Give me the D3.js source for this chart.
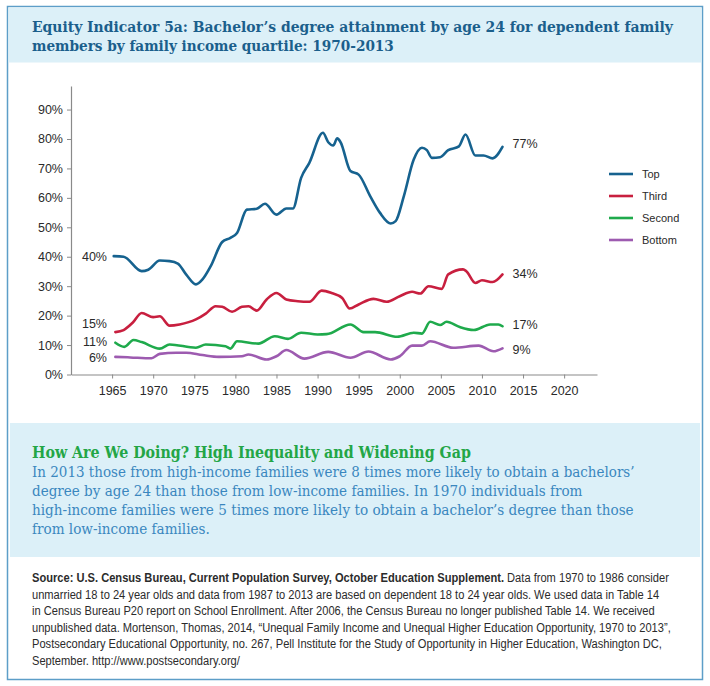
<!DOCTYPE html>
<html>
<head>
<meta charset="utf-8">
<script src="https://cdn.jsdelivr.net/npm/d3@7"></script>
<style>
  body { margin: 0; background: #fff; }
  svg { display: block; }
</style>
</head>
<body>
<div id="chart"></div>
<script>
// series values as [axis year, percent]
var topQ = [[1965.2,40.2],[1966.4,40],[1968.6,35.1],[1969.4,35.6],[1970.8,38.7],[1972,38.5],[1973,37.7],[1974,34],
  [1975.2,30.6],[1976,32.3],[1977,36.8],[1978.4,45],[1979.4,46.4],[1980.2,48.1],[1981.4,56],[1982.6,56.3],[1983.6,58],
  [1985,54.3],[1986.2,56.4],[1987,56.4],[1988,66.8],[1989,71.9],[1990.65,82.1],[1991.3,78.9],[1991.9,77.8],[1992.4,80.2],
  [1992.8,78.9],[1994,69.1],[1995,67.9],[1996.4,60.6],[1997.6,54.9],[1998.9,51.3],[1999.5,52.1],[2000.5,60.6],[2001.7,73],
  [2002.7,77],[2003.3,76.2],[2003.9,73.6],[2004.9,73.8],[2005.9,76.2],[2007.2,77.5],[2008,81.5],[2009.2,74.4],[2010.2,74.4],
  [2011.3,73.4],[2012.5,77.3]]
var thirdQ = [[1965.4,14.4],[1966.4,15.1],[1967.5,17.6],[1968.6,20.9],[1970,19.5],[1970.8,19.8],[1972,16.6],[1973.2,17],
  [1975.2,18.7],[1976.4,20.7],[1977.6,23.2],[1978.4,23],[1979.6,21.3],[1980.8,23],[1981.6,23.2],[1982.6,21.7],[1983.8,25.5],
  [1985,27.7],[1986.2,25.5],[1987.6,24.9],[1989,24.7],[1990.5,28.5],[1991.7,27.7],[1993,26],[1993.9,22.4],[1995,23.8],
  [1996.8,25.7],[1998.4,24.7],[2000,26.6],[2001.5,28.1],[2002.5,27.5],[2003.5,30],[2005.1,29.1],[2005.9,34],[2007.7,35.7],
  [2008.1,35.1],[2009.2,31.1],[2010,32],[2011.3,31.4],[2012.5,34]]
var secondQ = [[1965.4,10.8],[1966.5,9.4],[1967.6,11.7],[1968.6,11],[1970.8,8.8],[1972,10.2],[1975.2,9.1],[1976.4,10.2],
  [1978.8,9.6],[1979.4,8.8],[1980.2,11.3],[1982.8,10.5],[1984.8,13],[1986.4,12.1],[1988,14.2],[1990,13.6],[1991.1,13.7],
  [1994,17],[1995.6,14.4],[1997,14.4],[1999.7,12.8],[2001.7,14.2],[2002.7,13.9],[2003.7,17.9],[2004.9,16.8],[2005.7,17.9],
  [2007.3,16.1],[2009,15.1],[2011,17],[2012,17],[2012.5,16.4]]
var bottomQ = [[1965.4,6],[1967.2,5.8],[1969.8,5.5],[1970.8,7],[1972.8,7.4],[1974,7.4],[1976,6.6],[1978,6],[1980.8,6.2],
  [1981.6,6.8],[1983.8,5.1],[1985,6.2],[1986.2,8.3],[1988.4,5.4],[1991.3,7.7],[1994,5.7],[1996.2,7.8],[1998.9,5.1],
  [2000,6.2],[2001.5,9.8],[2002.7,9.8],[2003.7,11.3],[2006.5,9.1],[2009.6,9.8],[2011.4,7.9],[2012.5,8.9]]

var seriesNames = ["Top", "Third", "Second", "Bottom"]
var seriesColors = ["#16628f", "#c81f3f", "#1faa4c", "#9d5bb0"]
var startLabels = ["40%", "15%", "11%", "6%"]
var endLabels = ["77%", "34%", "17%", "9%"]
var yTicks = [0, 10, 20, 30, 40, 50, 60, 70, 80, 90]
var xTicks = [1965, 1970, 1975, 1980, 1985, 1990, 1995, 2000, 2005, 2010, 2015, 2020]

var titleLines = ["Equity Indicator 5a: Bachelor\u2019s degree attainment by age 24 for dependent family",
  "members by family income quartile: 1970-2013"]
var heading = "How Are We Doing? High Inequality and Widening Gap"
var bodyLines = ["In 2013 those from high-income families were 8 times more likely to obtain a bachelors\u2019",
  "degree by age 24 than those from low-income families. In 1970 individuals from",
  "high-income families were 5 times more likely to obtain a bachelor\u2019s degree than those",
  "from low-income families."]
var sourceBold = "Source: U.S. Census Bureau, Current Population Survey, October Education Supplement."
var sourceLines = [" Data from 1970 to 1986 consider",
  "unmarried 18 to 24 year olds and data from 1987 to 2013 are based on dependent 18 to 24 year olds. We used data in Table 14",
  "in Census Bureau P20 report on School Enrollment. After 2006, the Census Bureau no longer published Table 14. We received",
  "unpublished data. Mortenson, Thomas, 2014, \u201cUnequal Family Income and Unequal Higher Education Opportunity, 1970 to 2013\u201d,",
  "Postsecondary Educational Opportunity, no. 267, Pell Institute for the Study of Opportunity in Higher Education, Washington DC,",
  "September. http://www.postsecondary.org/"]

var W = 710, H = 686
var serif = "'DejaVu Serif Condensed', 'DejaVu Serif', serif"
var narrow = "'Liberation Sans Narrow', 'Arial Narrow', 'Liberation Sans', sans-serif"

var svg = d3.select("#chart").append("svg")
  .attr("width", W).attr("height", H)

// scale a text's font size so that its line runs to the wanted width
function fitWidth(sel, size, target) {
  sel.style("font-size", size + "px")
  var w = sel.node().getComputedTextLength()
  sel.style("font-size", (size * target / w).toFixed(2) + "px")
}

// frame, title band and info band
svg.append("rect").attr("x", 7.5).attr("y", 6.5).attr("width", 695).attr("height", 673)
  .attr("fill", "#fff").attr("stroke", "#5d9ec8").attr("stroke-width", 1.5)
svg.append("rect").attr("x", 8.5).attr("y", 7.5).attr("width", 693).attr("height", 55).attr("fill", "#dcf0f8")
svg.append("rect").attr("x", 10).attr("y", 423).attr("width", 690).attr("height", 134).attr("fill", "#dcf0f8")

// title
var titleWidths = [641, 362]
titleLines.forEach(function(t, i) {
  var tt = svg.append("text").attr("x", 32).attr("y", 32 + i * 19).text(t)
    .style("font-family", serif).style("font-weight", "bold")
    .style("fill", "#1b5f8c")
  fitWidth(tt, 15, titleWidths[i])
})

// scales
var x = d3.scaleLinear().domain([1960, 2024]).range([71, 597])
var y = d3.scaleLinear().domain([0, 98]).range([374.5, 86])

// axes
var yAxis = svg.append("g").attr("transform", "translate(71,0)")
  .call(d3.axisLeft(y).tickValues(yTicks).tickSize(4).tickSizeOuter(0).tickFormat(function(d) { return d + "%" }))
var xAxis = svg.append("g").attr("transform", "translate(0,374.5)")
  .call(d3.axisBottom(x).tickValues(xTicks).tickSize(4).tickSizeOuter(0).tickFormat(d3.format("d")))
;[yAxis, xAxis].forEach(function(a) {
  a.select(".domain").attr("stroke", "#8a8a8a").attr("stroke-width", 1.2)
  a.selectAll(".tick line").attr("stroke", "#8a8a8a")
  a.selectAll(".tick text").style("font-family", narrow).style("font-size", "12.5px").style("fill", "#2a2a2a")
})
yAxis.selectAll(".tick text").attr("x", -8)
xAxis.selectAll(".tick text").attr("y", 12)

// lines
var line = d3.line()
  .x(function(d) { return x(d[0]) })
  .y(function(d) { return y(d[1]) })
  .curve(d3.curveMonotoneX)

var allSeries = [topQ, thirdQ, secondQ, bottomQ]
allSeries.forEach(function(s, i) {
  svg.append("path").datum(s).attr("d", line)
    .attr("fill", "none").attr("stroke", seriesColors[i]).attr("stroke-width", 2.6)
    .attr("stroke-linejoin", "round").attr("stroke-linecap", "round")
})

// start and end labels
var startY = [257, 324, 342, 358]
var endY = [144, 274, 325, 350]
allSeries.forEach(function(s, i) {
  svg.append("text").attr("x", 107).attr("y", startY[i]).attr("dy", "0.35em")
    .attr("text-anchor", "end").text(startLabels[i])
    .style("font-family", narrow).style("font-size", "12.5px").style("fill", "#2a2a2a")
  svg.append("text").attr("x", x(s[s.length - 1][0]) + 10).attr("y", endY[i]).attr("dy", "0.35em")
    .text(endLabels[i])
    .style("font-family", narrow).style("font-size", "12.5px").style("fill", "#2a2a2a")
})

// legend
seriesNames.forEach(function(n, i) {
  var ly = 174 + i * 22
  svg.append("line").attr("x1", 609).attr("x2", 633).attr("y1", ly).attr("y2", ly)
    .attr("stroke", seriesColors[i]).attr("stroke-width", 2.6)
  svg.append("text").attr("x", 642).attr("y", ly).attr("dy", "0.35em").text(n)
    .style("font-family", narrow).style("font-size", "11px").style("fill", "#2a2a2a")
})

// info band text
var hd = svg.append("text").attr("x", 32).attr("y", 458).text(heading)
  .style("font-family", serif).style("font-weight", "bold").style("fill", "#23a646")
fitWidth(hd, 14, 439)
var bodyWidths = [603, 551, 602, 178]
bodyLines.forEach(function(t, i) {
  var bt = svg.append("text").attr("x", 32).attr("y", 477 + i * 19).text(t)
    .style("font-family", serif).style("fill", "#3a87bf")
  fitWidth(bt, 14.5, bodyWidths[i])
})

// source note: taller condensed look, squeeze the whole block sideways
var src = svg.append("g")
var srcTexts = []
sourceLines.forEach(function(t, i) {
  var tx = src.append("text").attr("x", 0).attr("y", 582 + i * 16.6)
    .style("font-family", narrow).style("font-size", "12.3px").style("fill", "#2b2b2b")
  if (i === 0) tx.append("tspan").style("font-weight", "bold").text(sourceBold)
  tx.append("tspan").text(t)
  srcTexts.push(tx)
})
// squeeze so the second line (plain text) is 627px wide, as in the picture
var srcW = srcTexts[1].node().getComputedTextLength()
src.attr("transform", "translate(32,0) scale(" + (627 / srcW).toFixed(4) + ",1)")
</script>
</body>
</html>
